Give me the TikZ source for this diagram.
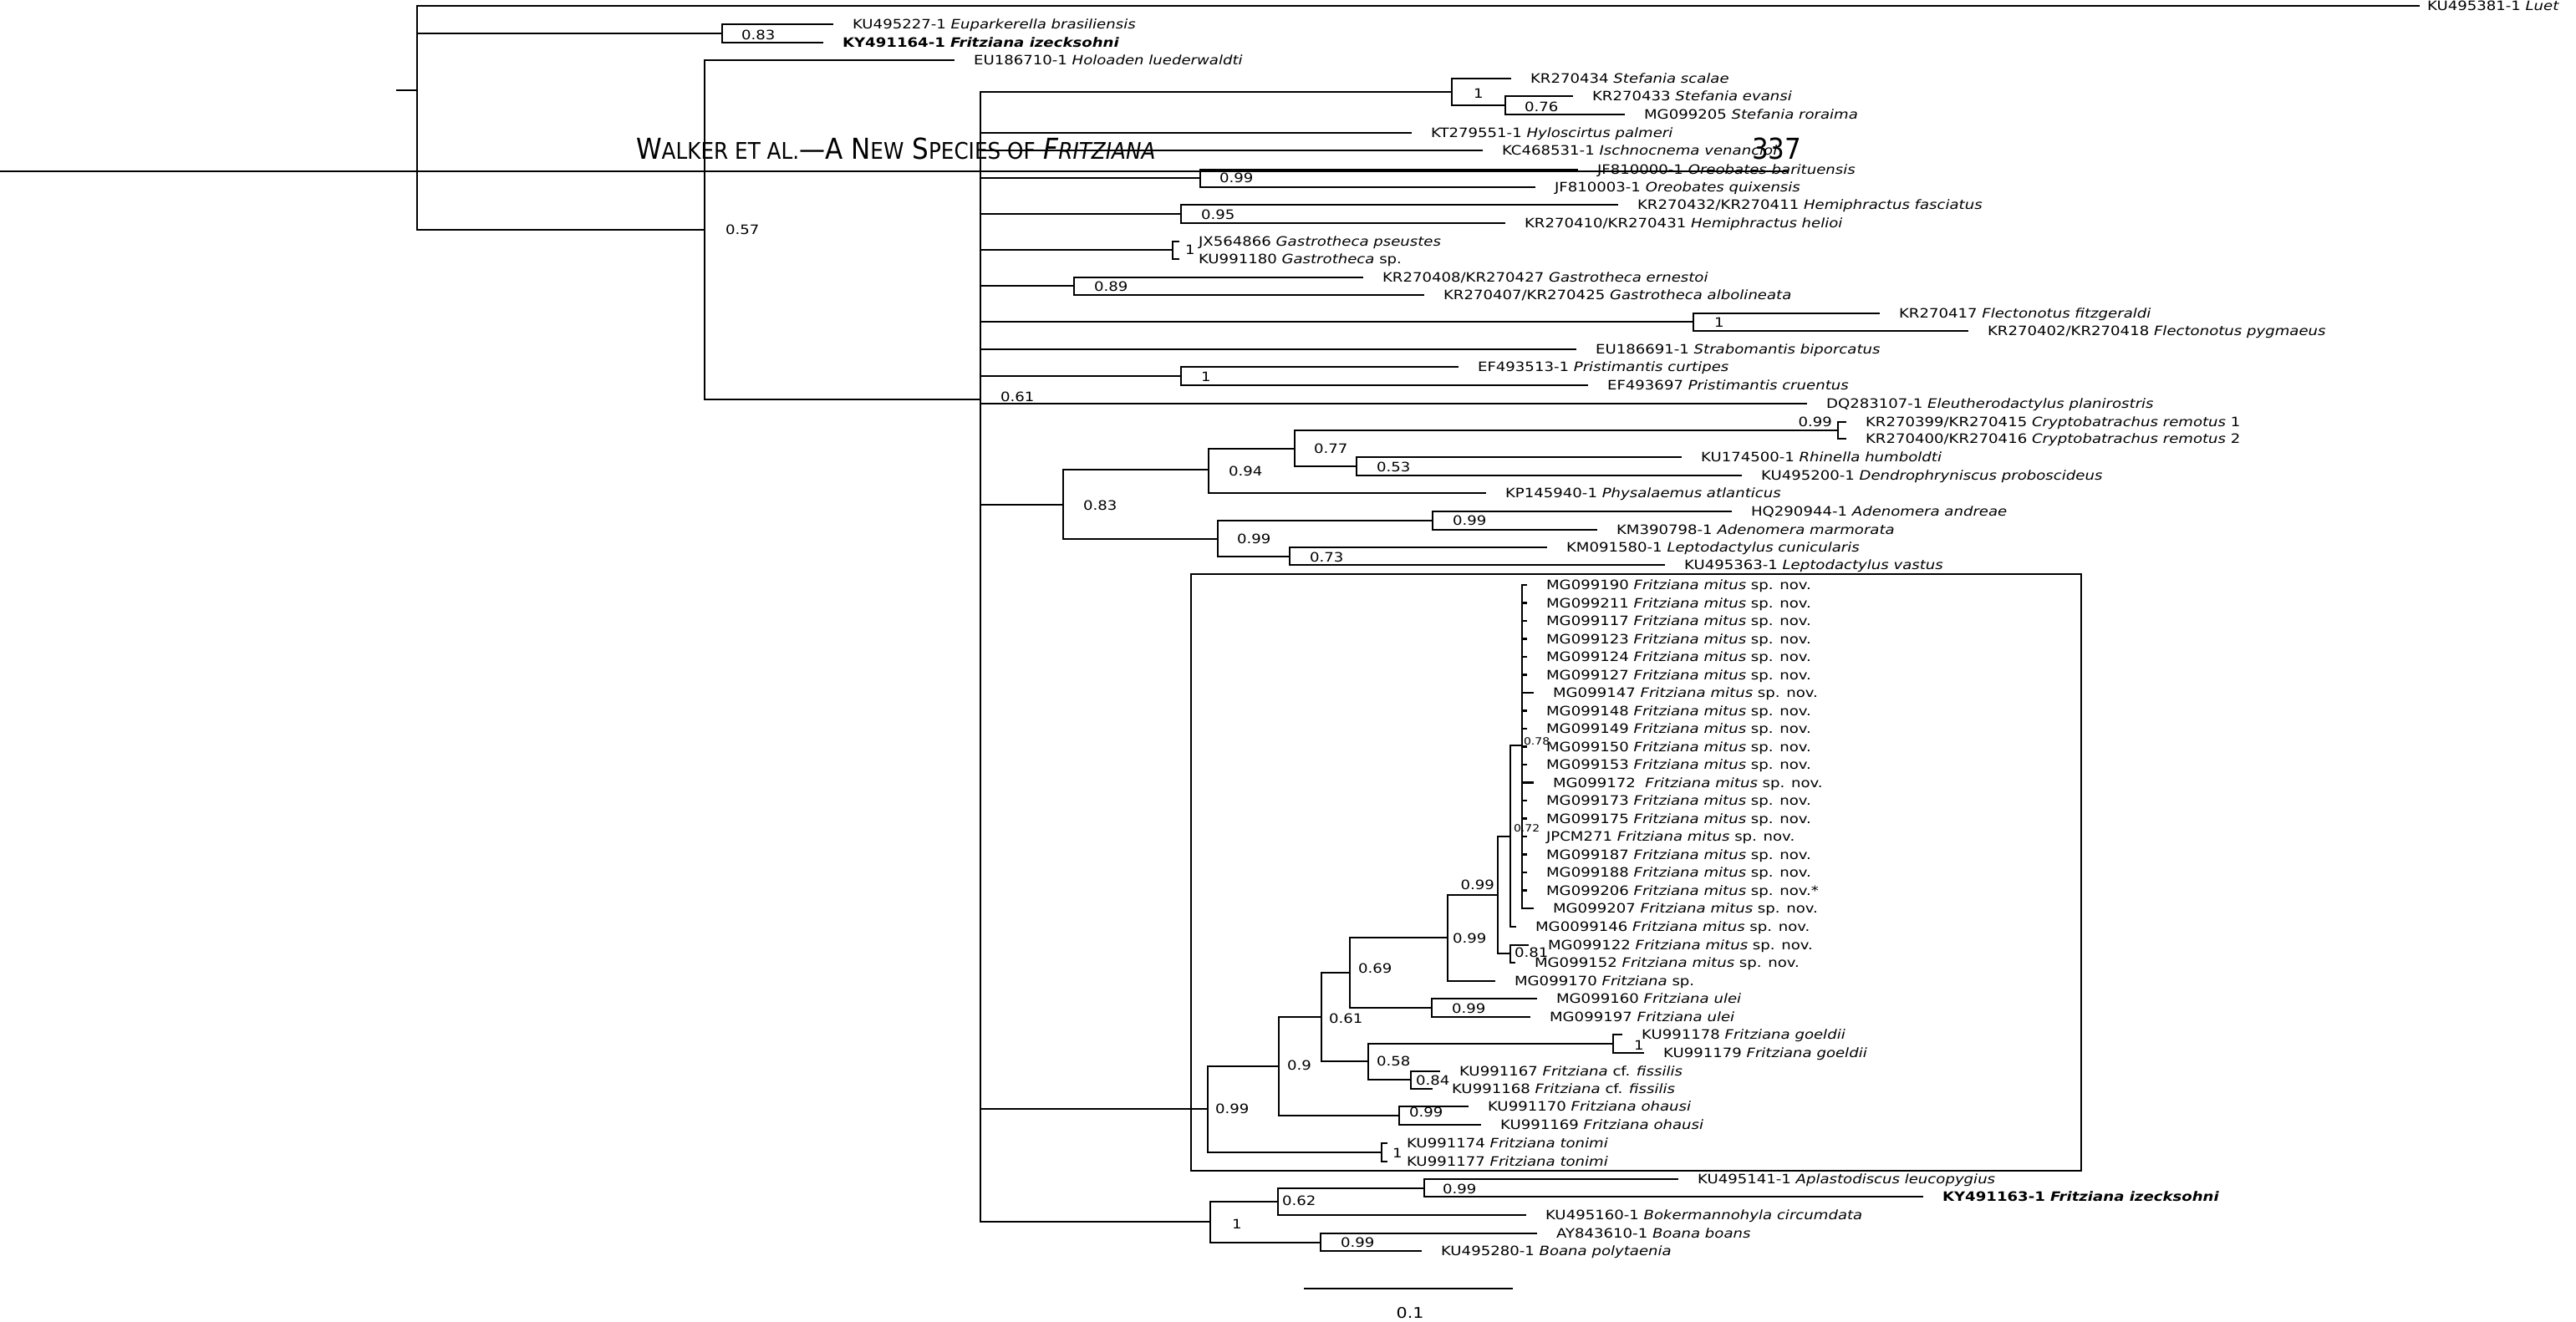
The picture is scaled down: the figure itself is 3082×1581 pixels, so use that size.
\documentclass[tikz,border=0pt]{standalone}
\usepackage{fontspec}
\setmainfont{DejaVu Sans}[FakeStretch=1.17]
\newfontfamily\headfont{DejaVu Sans}[FakeStretch=0.9]
\newcommand{\smallcap}[1]{{\fontsize{7.8}{8}\selectfont #1}}

\begin{document}
\begin{tikzpicture}[x=0.01cm,y=-0.01cm,line width=0.6pt,
    tip/.style={anchor=west,inner xsep=0.22cm,inner ysep=0pt,text height=3.2pt,
                text depth=0pt,font=\fontsize{4.4}{5}\selectfont},
    supp/.style={anchor=west,inner sep=0pt,text height=3.2pt,text depth=0pt,
                 font=\fontsize{4.4}{5}\selectfont},
    tiny/.style={supp,font=\fontsize{3.4}{4}\selectfont},
    head/.style={anchor=base west,inner sep=0pt,font=\headfont\fontsize{9.8}{10}\selectfont}]
    \useasboundingbox (0,0) rectangle (3082,1581);

    % running head of the page
    \node[head] (title) at (760,190) {W\smallcap{ALKER ET AL.}—A N\smallcap{EW} S\smallcap{PECIES OF} \textit{F\smallcap{RITZIANA}}};
    \node[head] (page) at (2095,190) {337};
    \draw (0,205) -- (2140,205);

    % outgroups
    \coordinate (base) at (474,108);
    \coordinate (root) at (499,108);
    \node[tip,inner xsep=0.08cm] (luet) at (2895,7) {KU495381-1 \textit{Luet}};
    \coordinate (n083) at (864,40);
    \node[tip] (eupar) at (997,29) {KU495227-1 \textit{Euparkerella brasiliensis}};
    \node[tip] (izeck1) at (985,51) {\bfseries KY491164-1 \textit{Fritziana izecksohni}};
    \coordinate (n057) at (843,275);
    \node[tip] (holo) at (1142,72) {EU186710-1 \textit{Holoaden luederwaldti}};
    \coordinate (core) at (1173,478);
    \node[supp] (l083) at (886,42) {0.83};
    \node[supp] (l057) at (867,275) {0.57};
    \node[supp] (l061) at (1196,475) {0.61};
    \draw (base) -- (root);
    \draw (root) |- (luet.west);
    \draw (root) |- (n083);
    \draw (root) |- (n057);
    \draw (n083) |- (eupar.west);
    \draw (n083) |- (izeck1.west);
    \draw (n057) |- (holo.west);
    \draw (n057) |- (core);

    % upper part of the core clade
    \coordinate (stef1) at (1737,110);
    \coordinate (stef2) at (1801,126);
    \node[tip] (scalae) at (1808,94) {KR270434 \textit{Stefania scalae}};
    \node[tip] (evansi) at (1882,115) {KR270433 \textit{Stefania evansi}};
    \node[tip] (roraima) at (1944,137) {MG099205 \textit{Stefania roraima}};
    \node[tip] (hylo) at (1689,159) {KT279551-1 \textit{Hyloscirtus palmeri}};
    \node[tip] (ischno) at (1774,180) {KC468531-1 \textit{Ischnocnema venancioi}};
    \coordinate (oreo) at (1436,213);
    \node[tip] (barit) at (1888,203) {JF810000-1 \textit{Oreobates barituensis}};
    \node[tip] (quix) at (1837,224) {JF810003-1 \textit{Oreobates quixensis}};
    \coordinate (hemi) at (1413,256);
    \node[tip] (fasc) at (1936,245) {KR270432/KR270411 \textit{Hemiphractus fasciatus}};
    \node[tip] (helioi) at (1801,267) {KR270410/KR270431 \textit{Hemiphractus helioi}};
    \coordinate (gast1) at (1403,299);
    \node[tip] (pseust) at (1411,289) {JX564866 \textit{Gastrotheca pseustes}};
    \node[tip] (gastsp) at (1411,310) {KU991180 \textit{Gastrotheca} sp.};
    \coordinate (gast2) at (1285,342);
    \node[tip] (ernest) at (1631,332) {KR270408/KR270427 \textit{Gastrotheca ernestoi}};
    \node[tip] (albol) at (1704,353) {KR270407/KR270425 \textit{Gastrotheca albolineata}};
    \coordinate (flec) at (2026,385);
    \node[tip] (fitzg) at (2249,375) {KR270417 \textit{Flectonotus fitzgeraldi}};
    \node[tip] (pygm) at (2355,396) {KR270402/KR270418 \textit{Flectonotus pygmaeus}};
    \node[tip] (strab) at (1886,418) {EU186691-1 \textit{Strabomantis biporcatus}};
    \coordinate (prist) at (1413,450);
    \node[tip] (curt) at (1745,439) {EF493513-1 \textit{Pristimantis curtipes}};
    \node[tip] (cruent) at (1900,461) {EF493697 \textit{Pristimantis cruentus}};
    \node[tip] (eleut) at (2162,483) {DQ283107-1 \textit{Eleutherodactylus planirostris}};
    \node[supp] (lstef1) at (1762,112) {1};
    \node[supp] (lstef2) at (1823,128) {0.76};
    \node[supp] (loreo) at (1458,213) {0.99};
    \node[supp] (lhemi) at (1436,257) {0.95};
    \node[supp] (lgast1) at (1417,299) {1};
    \node[supp] (lgast2) at (1308,343) {0.89};
    \node[supp] (lflec) at (2050,386) {1};
    \node[supp] (lprist) at (1436,451) {1};
    \draw (core) |- (stef1);
    \draw (stef1) |- (scalae.west);
    \draw (stef1) |- (stef2);
    \draw (stef2) |- (evansi.west);
    \draw (stef2) |- (roraima.west);
    \draw (core) |- (hylo.west);
    \draw (core) |- (ischno.west);
    \draw (core) |- (oreo);
    \draw (oreo) |- (barit.west);
    \draw (oreo) |- (quix.west);
    \draw (core) |- (hemi);
    \draw (hemi) |- (fasc.west);
    \draw (hemi) |- (helioi.west);
    \draw (core) |- (gast1);
    \draw (gast1) |- (pseust.west);
    \draw (gast1) |- (gastsp.west);
    \draw (core) |- (gast2);
    \draw (gast2) |- (ernest.west);
    \draw (gast2) |- (albol.west);
    \draw (core) |- (flec);
    \draw (flec) |- (fitzg.west);
    \draw (flec) |- (pygm.west);
    \draw (core) |- (strab.west);
    \draw (core) |- (prist);
    \draw (prist) |- (curt.west);
    \draw (prist) |- (cruent.west);
    \draw (core) |- (eleut.west);

    % bufonids and leptodactylids
    \coordinate (buf) at (1272,604);
    \coordinate (n094) at (1446,562);
    \coordinate (n077) at (1549,537);
    \coordinate (crypt) at (2199,515);
    \node[tip] (crem1) at (2209,505) {KR270399/KR270415 \textit{Cryptobatrachus remotus} 1};
    \node[tip] (crem2) at (2209,525) {KR270400/KR270416 \textit{Cryptobatrachus remotus} 2};
    \coordinate (n053) at (1623,558);
    \node[tip] (rhin) at (2012,547) {KU174500-1 \textit{Rhinella humboldti}};
    \node[tip] (dendro) at (2084,569) {KU495200-1 \textit{Dendrophryniscus proboscideus}};
    \node[tip] (physal) at (1778,590) {KP145940-1 \textit{Physalaemus atlanticus}};
    \coordinate (lep1) at (1457,645);
    \coordinate (aden) at (1714,623);
    \node[tip] (andr) at (2072,612) {HQ290944-1 \textit{Adenomera andreae}};
    \node[tip] (marm) at (1911,634) {KM390798-1 \textit{Adenomera marmorata}};
    \coordinate (lep2) at (1543,666);
    \node[tip] (cunic) at (1851,655) {KM091580-1 \textit{Leptodactylus cunicularis}};
    \node[tip] (vastus) at (1992,676) {KU495363-1 \textit{Leptodactylus vastus}};
    \node[supp] (lbuf) at (1295,605) {0.83};
    \node[supp] (ln094) at (1469,564) {0.94};
    \node[supp] (ln077) at (1571,537) {0.77};
    \node[supp,anchor=east] (lcrypt) at (2193,505) {0.99};
    \node[supp] (ln053) at (1646,559) {0.53};
    \node[supp] (llep1) at (1479,645) {0.99};
    \node[supp] (laden) at (1737,623) {0.99};
    \node[supp] (llep2) at (1566,667) {0.73};
    \draw (core) |- (buf);
    \draw (buf) |- (n094);
    \draw (buf) |- (lep1);
    \draw (n094) |- (n077);
    \draw (n094) |- (physal.west);
    \draw (n077) |- (crypt);
    \draw (n077) |- (n053);
    \draw (crypt) |- (crem1.west);
    \draw (crypt) |- (crem2.west);
    \draw (n053) |- (rhin.west);
    \draw (n053) |- (dendro.west);
    \draw (lep1) |- (aden);
    \draw (lep1) |- (lep2);
    \draw (aden) |- (andr.west);
    \draw (aden) |- (marm.west);
    \draw (lep2) |- (cunic.west);
    \draw (lep2) |- (vastus.west);

    % Fritziana clade
    \draw (1425,687) rectangle (2490,1401);
    \coordinate (fr) at (1445,1327);
    \coordinate (fr09) at (1530,1276);
    \coordinate (fr061) at (1581,1217);
    \coordinate (fr069) at (1615,1164);
    \coordinate (fr099a) at (1732,1122);
    \coordinate (fr099b) at (1792,1071);
    \coordinate (fr072) at (1807,1001);
    \coordinate (mitus) at (1821,892);
    \node[tip] (m01) at (1827,700) {MG099190 \textit{Fritziana mitus} sp. nov.};
    \node[tip] (m02) at (1827,721.5) {MG099211 \textit{Fritziana mitus} sp. nov.};
    \node[tip] (m03) at (1827,743) {MG099117 \textit{Fritziana mitus} sp. nov.};
    \node[tip] (m04) at (1827,764.5) {MG099123 \textit{Fritziana mitus} sp. nov.};
    \node[tip] (m05) at (1827,786) {MG099124 \textit{Fritziana mitus} sp. nov.};
    \node[tip] (m06) at (1827,807.5) {MG099127 \textit{Fritziana mitus} sp. nov.};
    \node[tip] (m07) at (1835,829) {MG099147 \textit{Fritziana mitus} sp. nov.};
    \node[tip] (m08) at (1827,850.5) {MG099148 \textit{Fritziana mitus} sp. nov.};
    \node[tip] (m09) at (1827,872) {MG099149 \textit{Fritziana mitus} sp. nov.};
    \node[tip] (m10) at (1827,893.5) {MG099150 \textit{Fritziana mitus} sp. nov.};
    \node[tip] (m11) at (1827,915) {MG099153 \textit{Fritziana mitus} sp. nov.};
    \node[tip] (m12) at (1835,936.5) {MG099172\ \ \textit{Fritziana mitus} sp. nov.};
    \node[tip] (m13) at (1827,958) {MG099173 \textit{Fritziana mitus} sp. nov.};
    \node[tip] (m14) at (1827,979.5) {MG099175 \textit{Fritziana mitus} sp. nov.};
    \node[tip] (m15) at (1827,1001) {JPCM271 \textit{Fritziana mitus} sp. nov.};
    \node[tip] (m16) at (1827,1022.5) {MG099187 \textit{Fritziana mitus} sp. nov.};
    \node[tip] (m17) at (1827,1044) {MG099188 \textit{Fritziana mitus} sp. nov.};
    \node[tip] (m18) at (1827,1065.5) {MG099206 \textit{Fritziana mitus} sp. nov.*};
    \node[tip] (m19) at (1835,1087) {MG099207 \textit{Fritziana mitus} sp. nov.};
    \node[tip] (m20) at (1814,1109) {MG0099146 \textit{Fritziana mitus} sp. nov.};
    \coordinate (fr081) at (1807,1141);
    \node[tip] (m21) at (1829,1131) {MG099122 \textit{Fritziana mitus} sp. nov.};
    \node[tip] (m22) at (1813,1152) {MG099152 \textit{Fritziana mitus} sp. nov.};
    \node[tip] (frsp) at (1789,1174) {MG099170 \textit{Fritziana} sp.};
    \coordinate (ulei) at (1713,1206);
    \node[tip] (ulei1) at (1839,1195) {MG099160 \textit{Fritziana ulei}};
    \node[tip] (ulei2) at (1831,1217) {MG099197 \textit{Fritziana ulei}};
    \coordinate (fr058) at (1637,1270);
    \coordinate (goeld) at (1930,1249);
    \node[tip] (goeld1) at (1941,1238) {KU991178 \textit{Fritziana goeldii}};
    \node[tip] (goeld2) at (1967,1260) {KU991179 \textit{Fritziana goeldii}};
    \coordinate (fiss) at (1688,1292);
    \node[tip] (fiss1) at (1723,1282) {KU991167 \textit{Fritziana} cf. \textit{fissilis}};
    \node[tip] (fiss2) at (1714,1303) {KU991168 \textit{Fritziana} cf. \textit{fissilis}};
    \coordinate (ohau) at (1674,1335);
    \node[tip] (ohau1) at (1757,1324) {KU991170 \textit{Fritziana ohausi}};
    \node[tip] (ohau2) at (1772,1346) {KU991169 \textit{Fritziana ohausi}};
    \coordinate (toni) at (1653,1379);
    \node[tip] (toni1) at (1660,1368) {KU991174 \textit{Fritziana tonimi}};
    \node[tip] (toni2) at (1660,1390) {KU991177 \textit{Fritziana tonimi}};
    \node[supp] (lfr) at (1453,1327) {0.99};
    \node[supp] (lfr09) at (1539,1275) {0.9};
    \node[supp] (lfr061) at (1589,1219) {0.61};
    \node[supp] (lfr069) at (1624,1159) {0.69};
    \node[supp] (lfr099a) at (1737,1123) {0.99};
    \node[supp,anchor=east] (lfr099b) at (1789,1059) {0.99};
    \node[tiny] (lfr072) at (1810,990) {0.72};
    \node[tiny] (lmitus) at (1822,886) {0.78};
    \node[supp] (lfr081) at (1811,1140) {0.81};
    \node[supp] (lulei) at (1736,1207) {0.99};
    \node[supp] (lfr058) at (1646,1270) {0.58};
    \node[supp] (lgoeld) at (1954,1251) {1};
    \node[supp] (lfiss) at (1693,1293) {0.84};
    \node[supp] (lohau) at (1685,1331) {0.99};
    \node[supp] (ltoni) at (1665,1380) {1};
    \draw (core) |- (fr);
    \draw (fr) |- (fr09);
    \draw (fr) |- (toni);
    \draw (fr09) |- (fr061);
    \draw (fr09) |- (ohau);
    \draw (fr061) |- (fr069);
    \draw (fr061) |- (fr058);
    \draw (fr069) |- (fr099a);
    \draw (fr069) |- (ulei);
    \draw (fr099a) |- (fr099b);
    \draw (fr099a) |- (frsp.west);
    \draw (fr099b) |- (fr072);
    \draw (fr099b) |- (fr081);
    \draw (fr072) |- (mitus);
    \draw (fr072) |- (m20.west);
    \draw (mitus) |- (m01.west);
    \draw (mitus) |- (m02.west);
    \draw (mitus) |- (m03.west);
    \draw (mitus) |- (m04.west);
    \draw (mitus) |- (m05.west);
    \draw (mitus) |- (m06.west);
    \draw (mitus) |- (m07.west);
    \draw (mitus) |- (m08.west);
    \draw (mitus) |- (m09.west);
    \draw (mitus) |- (m10.west);
    \draw (mitus) |- (m11.west);
    \draw (mitus) |- (m12.west);
    \draw (mitus) |- (m13.west);
    \draw (mitus) |- (m14.west);
    \draw (mitus) |- (m15.west);
    \draw (mitus) |- (m16.west);
    \draw (mitus) |- (m17.west);
    \draw (mitus) |- (m18.west);
    \draw (mitus) |- (m19.west);
    \draw (fr081) |- (m21.west);
    \draw (fr081) |- (m22.west);
    \draw (ulei) |- (ulei1.west);
    \draw (ulei) |- (ulei2.west);
    \draw (fr058) |- (goeld);
    \draw (fr058) |- (fiss);
    \draw (goeld) |- (goeld1.west);
    \draw (goeld) |- (goeld2.west);
    \draw (fiss) |- (fiss1.west);
    \draw (fiss) |- (fiss2.west);
    \draw (ohau) |- (ohau1.west);
    \draw (ohau) |- (ohau2.west);
    \draw (toni) |- (toni1.west);
    \draw (toni) |- (toni2.west);

    % hylids
    \coordinate (hyl) at (1448,1462);
    \coordinate (hyl062) at (1529,1438);
    \coordinate (aplas) at (1704,1422);
    \node[tip] (leuco) at (2008,1411) {KU495141-1 \textit{Aplastodiscus leucopygius}};
    \node[tip] (izeck2) at (2301,1432) {\bfseries KY491163-1 \textit{Fritziana izecksohni}};
    \node[tip] (boker) at (1826,1454) {KU495160-1 \textit{Bokermannohyla circumdata}};
    \coordinate (boana) at (1580,1487);
    \node[tip] (boans) at (1839,1476) {AY843610-1 \textit{Boana boans}};
    \node[tip] (polyt) at (1701,1497) {KU495280-1 \textit{Boana polytaenia}};
    \node[supp] (lhyl) at (1473,1465) {1};
    \node[supp] (lhyl062) at (1533,1437) {0.62};
    \node[supp] (laplas) at (1725,1423) {0.99};
    \node[supp] (lboana) at (1603,1487) {0.99};
    \draw (core) |- (hyl);
    \draw (hyl) |- (hyl062);
    \draw (hyl) |- (boana);
    \draw (hyl062) |- (aplas);
    \draw (hyl062) |- (boker.west);
    \draw (aplas) |- (leuco.west);
    \draw (aplas) |- (izeck2.west);
    \draw (boana) |- (boans.west);
    \draw (boana) |- (polyt.west);

    % scale bar
    \coordinate (bar1) at (1560,1542);
    \coordinate (bar2) at (1810,1542);
    \draw (bar1) -- (bar2);
    \node[font=\fontsize{5}{6}\selectfont,inner sep=0pt] (barlabel) at (1687,1571) {0.1};
\end{tikzpicture}
\end{document}
